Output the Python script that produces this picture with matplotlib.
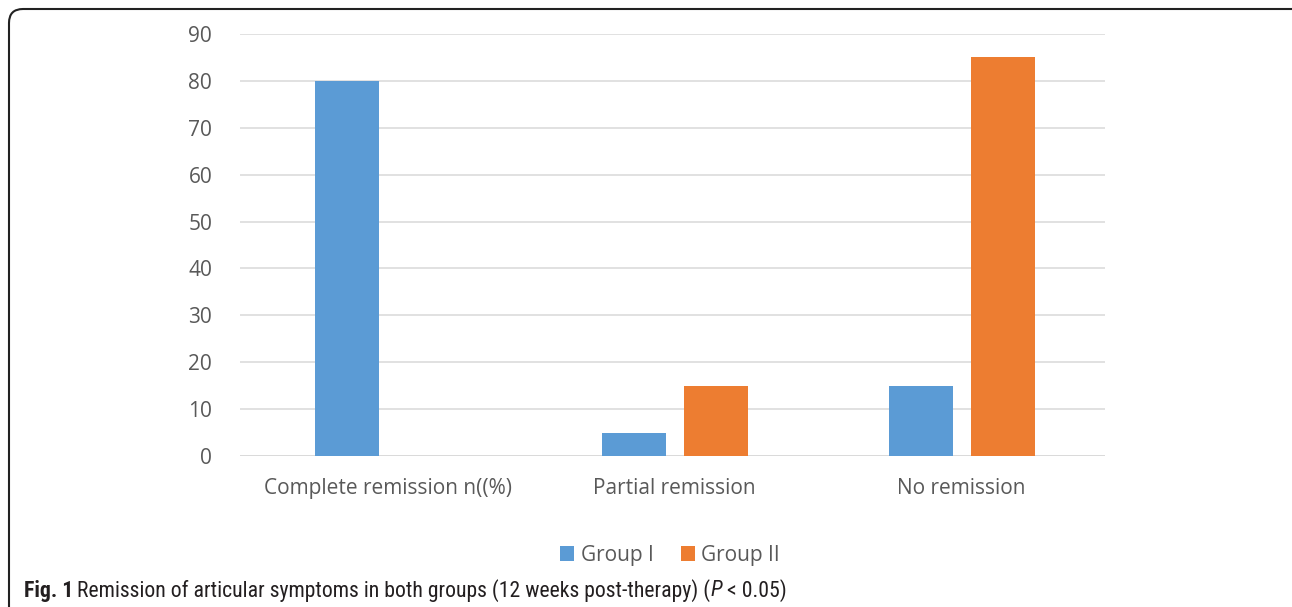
import matplotlib
matplotlib.use("Agg")
import matplotlib.pyplot as plt
import numpy as np
from matplotlib.patches import FancyBboxPatch
from matplotlib.transforms import IdentityTransform

categories = ["Complete remission n((%)", "Partial remission", "No remission"]
group1 = [80, 5, 15]
group2 = [0, 15, 85]
series_names = ["Group I", "Group II"]
colors = ["#5B9BD5", "#ED7D31"]
yticks = [0, 10, 20, 30, 40, 50, 60, 70, 80, 90]

W, H = 1292, 607
fig = plt.figure(figsize=(W / 100, H / 100), dpi=100)
ax = fig.add_axes([240 / W, 1 - 456 / H, (1105 - 240) / W, (456 - 34) / H])

x = np.arange(len(categories))
bw = 0.223
gap = 0.0627
ax.bar(x - (bw + gap) / 2, group1, width=bw, color=colors[0], label=series_names[0], zorder=3)
ax.bar(x + (bw + gap) / 2, group2, width=bw, color=colors[1], label=series_names[1], zorder=3)

ax.set_xlim(-0.516, len(categories) - 0.5)
ax.set_ylim(0, 90)
ax.set_yticks(yticks)
ax.yaxis.grid(True, color="#d9d9d9", linewidth=1.1, zorder=0)
for s in ["top", "right", "left", "bottom"]:
    ax.spines[s].set_visible(False)
ax.axhline(0, color="#d9d9d9", linewidth=1.1, zorder=2)
tick_font = ["Open Sans", "DejaVu Sans"]
ax.tick_params(axis="both", length=0, labelsize=15, labelcolor="#595959")
ax.tick_params(axis="y", pad=20)
ax.tick_params(axis="x", pad=16)
ax.set_xticks(x)
ax.set_xticklabels(categories)
for lab in ax.get_xticklabels() + ax.get_yticklabels():
    lab.set_fontfamily(tick_font)

leg = fig.legend(loc="center", bbox_to_anchor=(670 / W, 1 - 555 / H), ncol=2, frameon=False,
                 handlelength=0.7, handleheight=0.7, handletextpad=0.3, columnspacing=1.3,
                 prop={"family": tick_font, "size": 15})
for t in leg.get_texts():
    t.set_color("#595959")

# caption
cap_family = ["Roboto Condensed", "DejaVu Sans"]
cap_size = 15.7
y_cap = 1 - 591 / H
t1 = fig.text(24 / W, y_cap, "Fig. 1", fontsize=cap_size, fontweight="bold", family=cap_family,
              color="#231f20", va="center")
fig.canvas.draw()
r = fig.canvas.get_renderer()
bb = t1.get_window_extent(r)
t2 = fig.text((bb.x1 + 4) / W, y_cap, "Remission of articular symptoms in both groups (12 weeks post-therapy) (",
              fontsize=cap_size, family=cap_family, color="#231f20", va="center")
bb = t2.get_window_extent(r)
t3 = fig.text(bb.x1 / W, y_cap, "P", fontsize=cap_size, family=cap_family, style="italic",
              color="#231f20", va="center")
bb = t3.get_window_extent(r)
t4 = fig.text((bb.x1 + 5) / W, y_cap, "< 0.05)", fontsize=cap_size, family=cap_family,
              color="#231f20", va="center")

# rounded border
border = FancyBboxPatch((9, -40), W + 40, H - 9 + 40, boxstyle="round,pad=0,rounding_size=14",
                        transform=IdentityTransform(), fill=False, edgecolor="#222222",
                        linewidth=1.5, clip_on=False)
fig.patches.append(border)

fig.savefig("out.png", dpi=100)
